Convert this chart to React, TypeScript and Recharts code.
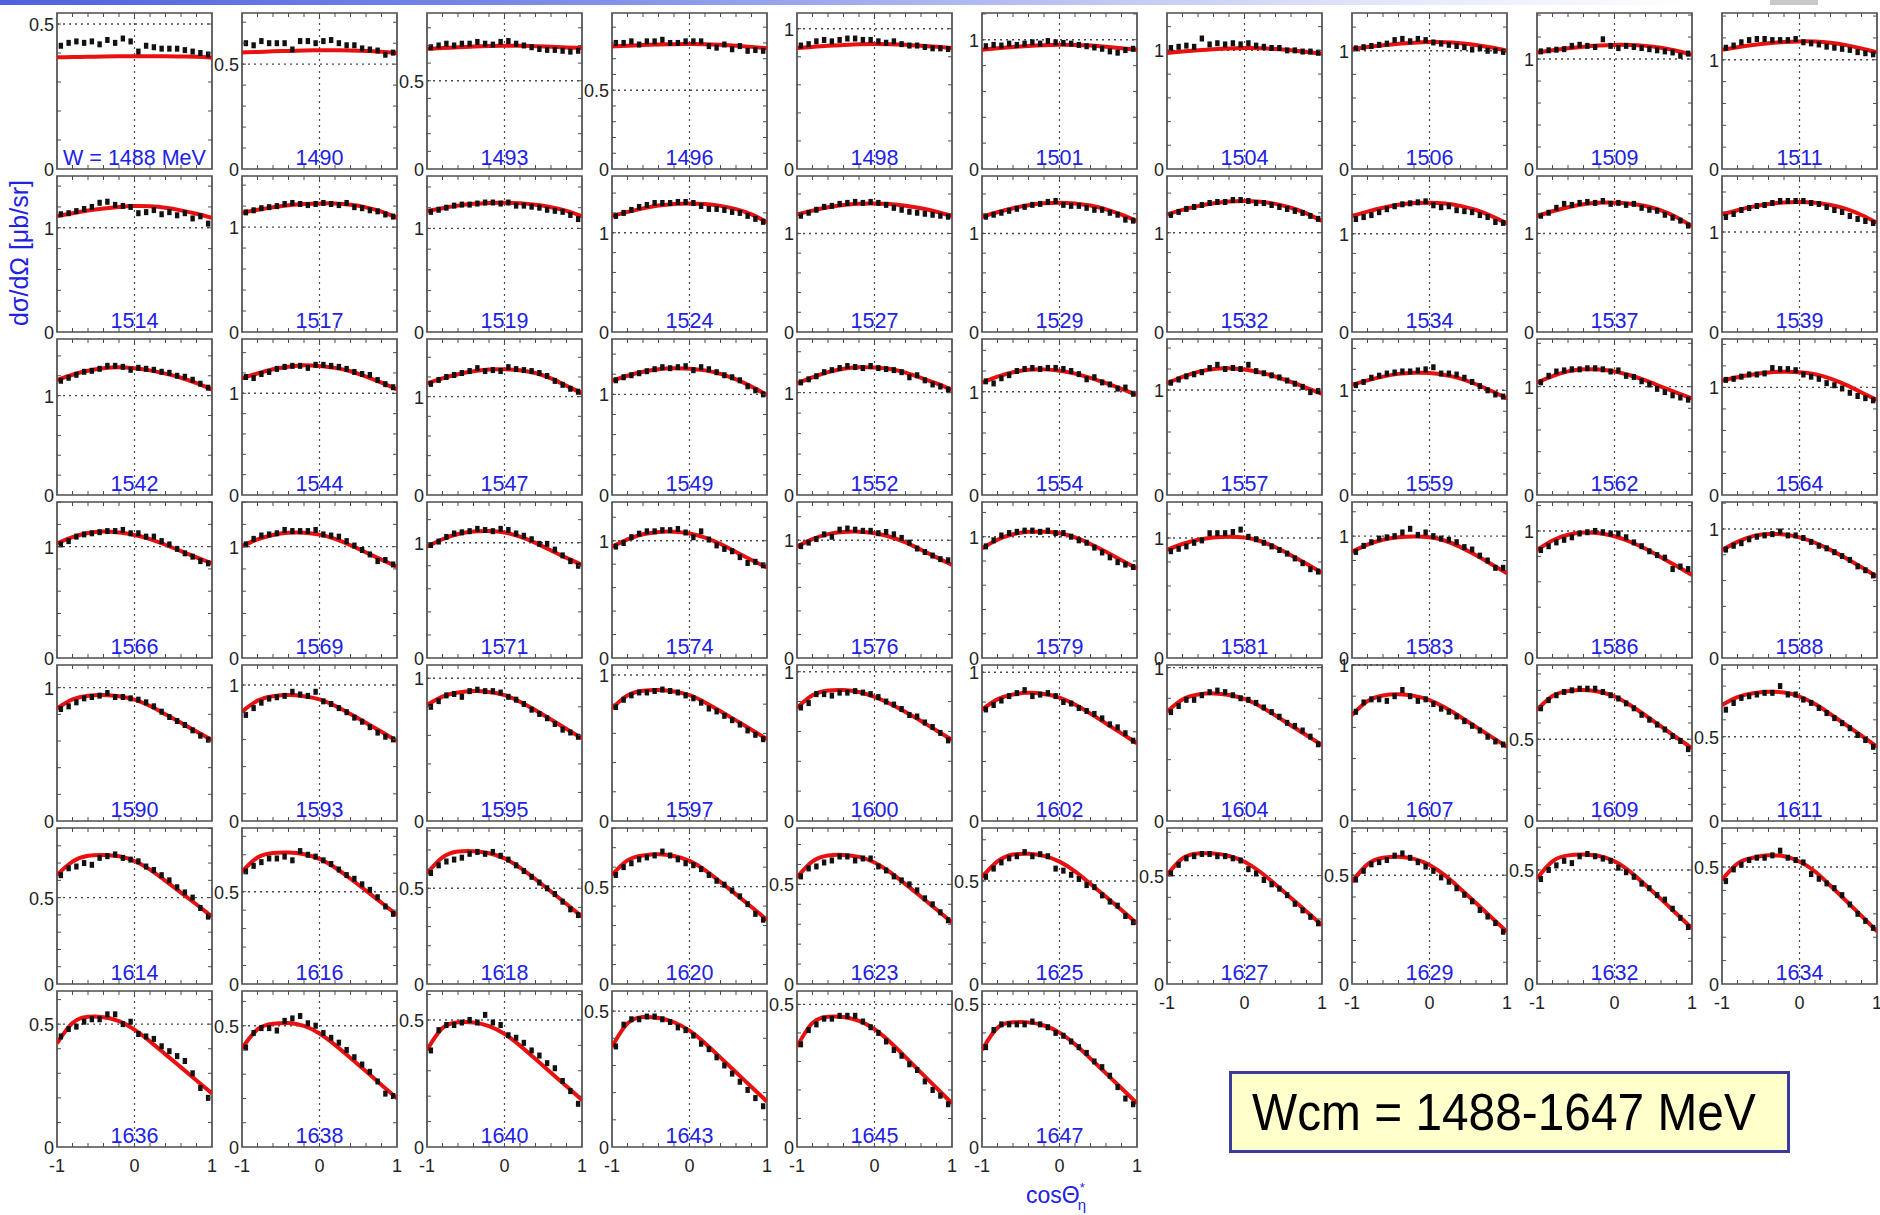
import React from 'react';
import { ComposedChart, Line, Scatter, XAxis, YAxis, ReferenceArea, ReferenceLine } from 'recharts';

// eta photoproduction cross sections, one small panel per W bin (MeV)
const ENERGIES = [
  1488, 1490, 1493, 1496, 1498, 1501, 1504, 1506, 1509, 1511,
  1514, 1517, 1519, 1524, 1527, 1529, 1532, 1534, 1537, 1539,
  1542, 1544, 1547, 1549, 1552, 1554, 1557, 1559, 1562, 1564,
  1566, 1569, 1571, 1574, 1576, 1579, 1581, 1583, 1586, 1588,
  1590, 1593, 1595, 1597, 1600, 1602, 1604, 1607, 1609, 1611,
  1614, 1616, 1618, 1620, 1623, 1625, 1627, 1629, 1632, 1634,
  1636, 1638, 1640, 1643, 1645, 1647,
];

// upper limit of each panel's y axis (µb/sr)
const Y_TOP = [
  0.538, 0.744, 0.884, 0.99, 1.112, 1.207, 1.315, 1.319, 1.419, 1.428,
  1.497, 1.487, 1.506, 1.572, 1.583, 1.583, 1.572, 1.588, 1.583, 1.56,
  1.57, 1.534, 1.586, 1.55, 1.524, 1.51, 1.486, 1.49, 1.44, 1.45,
  1.401, 1.401, 1.353, 1.33, 1.325, 1.286, 1.3, 1.28, 1.228, 1.209,
  1.17, 1.147, 1.093, 1.068, 1.045, 1.049, 1.017, 1.0, 0.955, 0.925,
  0.903, 0.845, 0.815, 0.801, 0.783, 0.757, 0.72, 0.717, 0.684, 0.667,
  0.635, 0.643, 0.614, 0.574, 0.547, 0.547,
];

const X_TICKS = [-1, -0.8, -0.6, -0.4, -0.2, 0, 0.2, 0.4, 0.6, 0.8, 1];
const CURVE_X = [-1, -0.8, -0.6, -0.4, -0.2, 0, 0.2, 0.4, 0.6, 0.8, 1];
const POINT_X = [
  -0.95, -0.85, -0.75, -0.65, -0.55, -0.45, -0.35, -0.25, -0.15, -0.05,
  0.05, 0.15, 0.25, 0.35, 0.45, 0.55, 0.65, 0.75, 0.85, 0.95,
];

// model curves (red), sampled at CURVE_X
const CURVE_R1 = [
  [0.385, 0.386, 0.387, 0.388, 0.389, 0.389, 0.389, 0.389, 0.388, 0.387, 0.384],
  [0.556, 0.558, 0.561, 0.563, 0.565, 0.566, 0.566, 0.565, 0.563, 0.559, 0.553],
  [0.681, 0.685, 0.690, 0.694, 0.697, 0.698, 0.698, 0.696, 0.693, 0.689, 0.685],
  [0.778, 0.782, 0.787, 0.790, 0.792, 0.793, 0.792, 0.788, 0.782, 0.775, 0.767],
  [0.862, 0.870, 0.878, 0.884, 0.889, 0.891, 0.890, 0.886, 0.879, 0.871, 0.862],
  [0.923, 0.934, 0.944, 0.952, 0.958, 0.961, 0.960, 0.955, 0.946, 0.935, 0.923],
  [0.977, 0.990, 1.001, 1.010, 1.016, 1.019, 1.018, 1.012, 1.001, 0.987, 0.971],
  [1.014, 1.031, 1.046, 1.059, 1.068, 1.073, 1.072, 1.064, 1.049, 1.027, 1.000],
  [1.060, 1.080, 1.098, 1.113, 1.123, 1.129, 1.128, 1.120, 1.103, 1.076, 1.039],
  [1.092, 1.115, 1.135, 1.151, 1.162, 1.168, 1.166, 1.155, 1.134, 1.103, 1.067],
];
const CURVE_R2 = [
  [1.112, 1.140, 1.165, 1.185, 1.200, 1.208, 1.206, 1.192, 1.167, 1.135, 1.096],
  [1.137, 1.165, 1.190, 1.208, 1.220, 1.226, 1.224, 1.212, 1.188, 1.148, 1.089],
  [1.167, 1.195, 1.220, 1.237, 1.246, 1.248, 1.242, 1.228, 1.205, 1.170, 1.119],
  [1.168, 1.210, 1.246, 1.274, 1.291, 1.296, 1.290, 1.271, 1.238, 1.185, 1.107],
  [1.193, 1.232, 1.265, 1.289, 1.302, 1.305, 1.298, 1.281, 1.256, 1.220, 1.176],
  [1.169, 1.215, 1.256, 1.287, 1.306, 1.312, 1.305, 1.283, 1.245, 1.190, 1.125],
  [1.185, 1.230, 1.268, 1.297, 1.315, 1.320, 1.313, 1.291, 1.252, 1.196, 1.118],
  [1.180, 1.226, 1.265, 1.295, 1.312, 1.316, 1.308, 1.284, 1.242, 1.180, 1.105],
  [1.176, 1.225, 1.266, 1.296, 1.311, 1.312, 1.302, 1.278, 1.234, 1.165, 1.074],
  [1.176, 1.218, 1.254, 1.280, 1.296, 1.300, 1.292, 1.270, 1.231, 1.170, 1.092],
];
const CURVE_R3 = [
  [1.157, 1.210, 1.250, 1.276, 1.285, 1.275, 1.254, 1.222, 1.180, 1.125, 1.063],
  [1.147, 1.195, 1.236, 1.262, 1.277, 1.268, 1.250, 1.217, 1.165, 1.105, 1.039],
  [1.135, 1.185, 1.228, 1.258, 1.275, 1.278, 1.268, 1.240, 1.185, 1.110, 1.034],
  [1.136, 1.185, 1.224, 1.250, 1.259, 1.255, 1.238, 1.203, 1.148, 1.077, 0.994],
  [1.091, 1.150, 1.200, 1.233, 1.247, 1.245, 1.230, 1.195, 1.145, 1.090, 1.026],
  [1.087, 1.145, 1.188, 1.212, 1.216, 1.203, 1.175, 1.133, 1.082, 1.027, 0.968],
  [1.064, 1.125, 1.173, 1.201, 1.207, 1.195, 1.168, 1.128, 1.077, 1.021, 0.962],
  [1.051, 1.095, 1.131, 1.157, 1.168, 1.165, 1.147, 1.112, 1.058, 0.993, 0.923],
  [1.037, 1.098, 1.141, 1.160, 1.158, 1.140, 1.105, 1.057, 1.000, 0.945, 0.892],
  [1.063, 1.095, 1.120, 1.138, 1.146, 1.142, 1.122, 1.082, 1.023, 0.953, 0.883],
];
const CURVE_R4 = [
  [1.030, 1.085, 1.122, 1.135, 1.127, 1.105, 1.068, 1.017, 0.960, 0.903, 0.850],
  [1.006, 1.065, 1.105, 1.124, 1.125, 1.108, 1.070, 1.013, 0.948, 0.883, 0.820],
  [0.966, 1.030, 1.075, 1.097, 1.101, 1.088, 1.052, 0.998, 0.933, 0.868, 0.807],
  [0.949, 1.012, 1.055, 1.075, 1.077, 1.062, 1.027, 0.972, 0.904, 0.836, 0.773],
  [0.946, 1.010, 1.052, 1.070, 1.073, 1.060, 1.030, 0.982, 0.920, 0.855, 0.790],
  [0.904, 0.975, 1.020, 1.040, 1.040, 1.028, 0.995, 0.940, 0.875, 0.806, 0.739],
  [0.900, 0.950, 0.985, 1.005, 1.011, 1.004, 0.975, 0.923, 0.857, 0.785, 0.711],
  [0.872, 0.930, 0.970, 0.990, 0.996, 0.990, 0.962, 0.910, 0.843, 0.770, 0.695],
  [0.850, 0.925, 0.970, 0.987, 0.982, 0.958, 0.915, 0.860, 0.793, 0.724, 0.654],
  [0.837, 0.900, 0.945, 0.961, 0.958, 0.935, 0.893, 0.838, 0.773, 0.703, 0.632],
];
const CURVE_R5 = [
  [0.845, 0.912, 0.940, 0.945, 0.935, 0.910, 0.862, 0.800, 0.736, 0.671, 0.607],
  [0.804, 0.885, 0.918, 0.926, 0.918, 0.894, 0.847, 0.787, 0.722, 0.656, 0.588],
  [0.813, 0.872, 0.900, 0.910, 0.904, 0.882, 0.836, 0.776, 0.711, 0.645, 0.579],
  [0.771, 0.860, 0.892, 0.897, 0.887, 0.861, 0.812, 0.752, 0.689, 0.625, 0.561],
  [0.758, 0.842, 0.874, 0.877, 0.864, 0.832, 0.786, 0.730, 0.670, 0.606, 0.543],
  [0.749, 0.818, 0.851, 0.862, 0.854, 0.830, 0.783, 0.722, 0.656, 0.589, 0.522],
  [0.713, 0.792, 0.825, 0.832, 0.822, 0.796, 0.748, 0.687, 0.623, 0.559, 0.495],
  [0.679, 0.768, 0.805, 0.812, 0.802, 0.775, 0.727, 0.667, 0.603, 0.539, 0.476],
  [0.680, 0.765, 0.795, 0.802, 0.791, 0.762, 0.710, 0.646, 0.579, 0.512, 0.445],
  [0.688, 0.735, 0.758, 0.766, 0.762, 0.738, 0.694, 0.634, 0.570, 0.506, 0.441],
];
const CURVE_R6 = [
  [0.631, 0.708, 0.742, 0.747, 0.739, 0.712, 0.662, 0.597, 0.529, 0.460, 0.390],
  [0.608, 0.685, 0.710, 0.712, 0.703, 0.678, 0.631, 0.570, 0.506, 0.440, 0.374],
  [0.578, 0.662, 0.692, 0.694, 0.683, 0.656, 0.608, 0.547, 0.483, 0.418, 0.352],
  [0.560, 0.635, 0.660, 0.666, 0.657, 0.632, 0.585, 0.524, 0.460, 0.395, 0.329],
  [0.535, 0.615, 0.645, 0.648, 0.638, 0.610, 0.562, 0.501, 0.438, 0.374, 0.309],
  [0.519, 0.595, 0.628, 0.632, 0.622, 0.594, 0.547, 0.486, 0.423, 0.359, 0.294],
  [0.503, 0.580, 0.602, 0.602, 0.591, 0.564, 0.518, 0.459, 0.397, 0.335, 0.272],
  [0.470, 0.550, 0.580, 0.585, 0.575, 0.547, 0.499, 0.437, 0.372, 0.306, 0.240],
  [0.463, 0.538, 0.564, 0.568, 0.561, 0.538, 0.493, 0.434, 0.372, 0.308, 0.244],
  [0.445, 0.515, 0.540, 0.550, 0.546, 0.524, 0.481, 0.420, 0.356, 0.291, 0.225],
];
const CURVE_R7 = [
  [0.422, 0.505, 0.530, 0.528, 0.512, 0.478, 0.430, 0.377, 0.324, 0.271, 0.218],
  [0.407, 0.485, 0.508, 0.511, 0.499, 0.468, 0.421, 0.367, 0.312, 0.256, 0.200],
  [0.382, 0.468, 0.491, 0.490, 0.476, 0.445, 0.399, 0.346, 0.292, 0.239, 0.185],
  [0.369, 0.455, 0.478, 0.475, 0.459, 0.428, 0.382, 0.329, 0.275, 0.221, 0.167],
  [0.352, 0.435, 0.457, 0.456, 0.442, 0.413, 0.368, 0.315, 0.261, 0.207, 0.153],
  [0.340, 0.418, 0.437, 0.437, 0.426, 0.401, 0.360, 0.310, 0.258, 0.206, 0.153],
];

// measured points (black), at POINT_X
const POINTS_R1 = [
  [0.425, 0.435, 0.44, 0.435, 0.44, 0.43, 0.445, 0.435, 0.45, 0.44, 0.405, 0.425, 0.42, 0.415, 0.415, 0.415, 0.41, 0.405, 0.40, 0.395],
  [0.60, 0.59, 0.61, 0.60, 0.60, 0.60, 0.57, 0.61, 0.61, 0.60, 0.61, 0.615, 0.60, 0.59, 0.59, 0.575, 0.57, 0.565, 0.545, 0.555],
  [0.69, 0.70, 0.71, 0.70, 0.71, 0.71, 0.72, 0.71, 0.705, 0.72, 0.725, 0.71, 0.70, 0.69, 0.68, 0.675, 0.675, 0.67, 0.665, 0.67],
  [0.80, 0.80, 0.81, 0.79, 0.81, 0.81, 0.82, 0.80, 0.80, 0.81, 0.81, 0.81, 0.78, 0.77, 0.79, 0.76, 0.78, 0.75, 0.755, 0.75],
  [0.88, 0.89, 0.91, 0.92, 0.91, 0.92, 0.93, 0.93, 0.92, 0.92, 0.91, 0.90, 0.91, 0.89, 0.88, 0.88, 0.87, 0.86, 0.86, 0.855],
  [0.95, 0.96, 0.955, 0.97, 0.96, 0.97, 0.98, 0.97, 0.99, 0.98, 0.975, 0.97, 0.96, 0.95, 0.94, 0.93, 0.91, 0.90, 0.92, 0.93],
  [1.02, 1.03, 1.04, 1.03, 1.10, 1.05, 1.06, 1.05, 1.06, 1.05, 1.06, 1.04, 1.03, 1.02, 1.02, 1.00, 1.00, 0.99, 0.99, 0.98],
  [1.02, 1.03, 1.04, 1.05, 1.06, 1.09, 1.10, 1.08, 1.10, 1.09, 1.07, 1.06, 1.05, 1.04, 1.03, 1.01, 1.02, 1.00, 1.00, 0.99],
  [1.07, 1.08, 1.085, 1.09, 1.12, 1.13, 1.12, 1.11, 1.18, 1.12, 1.10, 1.12, 1.11, 1.10, 1.09, 1.08, 1.07, 1.06, 1.03, 1.05],
  [1.11, 1.13, 1.16, 1.18, 1.19, 1.19, 1.18, 1.18, 1.18, 1.19, 1.16, 1.15, 1.14, 1.12, 1.11, 1.10, 1.09, 1.07, 1.06, 1.05],
];
const POINTS_R2 = [
  [1.13, 1.14, 1.16, 1.18, 1.20, 1.24, 1.25, 1.22, 1.21, 1.20, 1.14, 1.15, 1.17, 1.13, 1.15, 1.12, 1.14, 1.09, 1.11, 1.04],
  [1.14, 1.16, 1.18, 1.19, 1.20, 1.22, 1.23, 1.22, 1.21, 1.22, 1.23, 1.22, 1.21, 1.23, 1.19, 1.18, 1.16, 1.15, 1.12, 1.10],
  [1.16, 1.18, 1.20, 1.22, 1.23, 1.23, 1.24, 1.25, 1.25, 1.24, 1.25, 1.22, 1.22, 1.21, 1.20, 1.18, 1.17, 1.16, 1.13, 1.09],
  [1.17, 1.20, 1.23, 1.26, 1.28, 1.30, 1.30, 1.30, 1.31, 1.31, 1.30, 1.27, 1.24, 1.24, 1.23, 1.21, 1.20, 1.17, 1.14, 1.11],
  [1.18, 1.21, 1.24, 1.27, 1.28, 1.30, 1.31, 1.32, 1.31, 1.32, 1.31, 1.29, 1.26, 1.24, 1.22, 1.21, 1.20, 1.19, 1.18, 1.17],
  [1.17, 1.19, 1.21, 1.23, 1.25, 1.27, 1.29, 1.30, 1.32, 1.33, 1.29, 1.28, 1.28, 1.26, 1.24, 1.24, 1.21, 1.19, 1.14, 1.13],
  [1.18, 1.21, 1.24, 1.26, 1.28, 1.30, 1.31, 1.31, 1.33, 1.33, 1.32, 1.30, 1.30, 1.28, 1.26, 1.24, 1.22, 1.20, 1.17, 1.14],
  [1.15, 1.17, 1.19, 1.22, 1.25, 1.28, 1.30, 1.31, 1.32, 1.33, 1.29, 1.27, 1.28, 1.24, 1.23, 1.22, 1.19, 1.17, 1.12, 1.11],
  [1.18, 1.21, 1.26, 1.30, 1.29, 1.31, 1.32, 1.31, 1.33, 1.30, 1.31, 1.29, 1.30, 1.26, 1.24, 1.23, 1.19, 1.16, 1.13, 1.08],
  [1.15, 1.18, 1.22, 1.24, 1.26, 1.27, 1.29, 1.31, 1.31, 1.31, 1.31, 1.29, 1.28, 1.25, 1.22, 1.20, 1.16, 1.13, 1.11, 1.09],
];
const POINTS_R3 = [
  [1.15, 1.18, 1.21, 1.24, 1.25, 1.27, 1.30, 1.30, 1.29, 1.26, 1.28, 1.27, 1.26, 1.24, 1.23, 1.20, 1.19, 1.16, 1.12, 1.08],
  [1.16, 1.15, 1.19, 1.21, 1.24, 1.26, 1.27, 1.27, 1.25, 1.28, 1.28, 1.27, 1.26, 1.24, 1.21, 1.19, 1.18, 1.13, 1.09, 1.06],
  [1.13, 1.17, 1.20, 1.22, 1.24, 1.26, 1.29, 1.26, 1.27, 1.26, 1.30, 1.28, 1.27, 1.26, 1.24, 1.21, 1.16, 1.12, 1.08, 1.05],
  [1.14, 1.17, 1.19, 1.21, 1.23, 1.25, 1.27, 1.26, 1.27, 1.28, 1.24, 1.27, 1.25, 1.22, 1.19, 1.17, 1.14, 1.08, 1.04, 1.00],
  [1.10, 1.13, 1.16, 1.20, 1.22, 1.24, 1.26, 1.25, 1.24, 1.26, 1.24, 1.23, 1.22, 1.20, 1.15, 1.17, 1.12, 1.08, 1.06, 1.03],
  [1.10, 1.08, 1.13, 1.16, 1.20, 1.22, 1.23, 1.22, 1.23, 1.23, 1.22, 1.20, 1.17, 1.12, 1.14, 1.09, 1.07, 1.03, 1.04, 0.98],
  [1.07, 1.10, 1.13, 1.15, 1.17, 1.21, 1.24, 1.20, 1.21, 1.20, 1.24, 1.18, 1.16, 1.14, 1.12, 1.09, 1.06, 1.03, 0.98, 0.99],
  [1.05, 1.08, 1.12, 1.14, 1.16, 1.17, 1.18, 1.18, 1.19, 1.20, 1.22, 1.16, 1.16, 1.15, 1.12, 1.08, 1.04, 1.00, 0.96, 0.94],
  [1.04, 1.10, 1.14, 1.15, 1.16, 1.16, 1.17, 1.17, 1.16, 1.14, 1.15, 1.10, 1.09, 1.05, 1.02, 0.98, 0.95, 0.92, 0.90, 0.88],
  [1.07, 1.08, 1.10, 1.12, 1.12, 1.13, 1.18, 1.17, 1.17, 1.16, 1.12, 1.10, 1.08, 1.04, 1.02, 0.99, 0.95, 0.92, 0.90, 0.88],
];
const POINTS_R4 = [
  [1.02, 1.05, 1.09, 1.11, 1.12, 1.13, 1.14, 1.14, 1.15, 1.12, 1.12, 1.09, 1.09, 1.05, 1.02, 0.98, 0.94, 0.91, 0.87, 0.85],
  [1.02, 1.07, 1.10, 1.11, 1.12, 1.15, 1.14, 1.14, 1.14, 1.15, 1.11, 1.10, 1.09, 1.05, 1.01, 0.97, 0.93, 0.87, 0.88, 0.84],
  [0.98, 1.01, 1.05, 1.08, 1.09, 1.10, 1.12, 1.11, 1.10, 1.12, 1.11, 1.08, 1.06, 1.03, 0.99, 0.99, 0.94, 0.89, 0.84, 0.80],
  [0.95, 0.98, 1.03, 1.06, 1.08, 1.08, 1.09, 1.09, 1.10, 1.07, 1.03, 1.08, 1.01, 0.96, 0.93, 0.91, 0.86, 0.81, 0.82, 0.79],
  [0.95, 0.98, 1.01, 1.05, 1.03, 1.09, 1.10, 1.09, 1.08, 1.08, 1.06, 1.07, 1.05, 1.02, 0.98, 0.93, 0.90, 0.87, 0.84, 0.83],
  [0.92, 0.97, 1.01, 1.03, 1.04, 1.05, 1.05, 1.04, 1.05, 1.03, 1.03, 1.00, 0.97, 0.95, 0.91, 0.87, 0.83, 0.79, 0.77, 0.75],
  [0.89, 0.91, 0.93, 0.96, 0.98, 1.04, 1.04, 1.04, 1.05, 1.07, 1.01, 0.99, 0.96, 0.93, 0.90, 0.87, 0.83, 0.79, 0.74, 0.72],
  [0.87, 0.92, 0.95, 0.98, 0.99, 1.00, 1.03, 1.06, 1.01, 1.03, 1.00, 0.98, 0.97, 0.95, 0.91, 0.89, 0.84, 0.80, 0.74, 0.74],
  [0.85, 0.88, 0.91, 0.93, 0.95, 0.98, 0.99, 1.00, 0.99, 0.98, 0.98, 0.95, 0.91, 0.88, 0.84, 0.81, 0.79, 0.70, 0.72, 0.70],
  [0.84, 0.87, 0.89, 0.92, 0.94, 0.95, 0.96, 0.98, 0.95, 0.95, 0.93, 0.90, 0.87, 0.85, 0.82, 0.79, 0.76, 0.71, 0.68, 0.64],
];
const POINTS_R5 = [
  [0.84, 0.86, 0.89, 0.92, 0.93, 0.94, 0.96, 0.93, 0.93, 0.92, 0.91, 0.89, 0.86, 0.82, 0.78, 0.75, 0.72, 0.68, 0.64, 0.61],
  [0.78, 0.83, 0.87, 0.90, 0.91, 0.92, 0.95, 0.93, 0.92, 0.95, 0.88, 0.86, 0.83, 0.80, 0.76, 0.73, 0.69, 0.65, 0.62, 0.60],
  [0.80, 0.84, 0.88, 0.89, 0.87, 0.91, 0.92, 0.91, 0.91, 0.90, 0.87, 0.85, 0.82, 0.78, 0.75, 0.72, 0.68, 0.64, 0.62, 0.59],
  [0.78, 0.83, 0.86, 0.88, 0.88, 0.89, 0.90, 0.89, 0.88, 0.86, 0.84, 0.81, 0.77, 0.75, 0.72, 0.69, 0.66, 0.62, 0.59, 0.56],
  [0.76, 0.79, 0.85, 0.85, 0.84, 0.86, 0.86, 0.87, 0.86, 0.85, 0.83, 0.80, 0.78, 0.75, 0.71, 0.70, 0.66, 0.63, 0.59, 0.54],
  [0.75, 0.78, 0.81, 0.84, 0.86, 0.88, 0.84, 0.85, 0.86, 0.84, 0.80, 0.79, 0.76, 0.74, 0.72, 0.69, 0.65, 0.63, 0.59, 0.54],
  [0.71, 0.75, 0.79, 0.79, 0.82, 0.84, 0.85, 0.84, 0.82, 0.80, 0.79, 0.77, 0.74, 0.71, 0.68, 0.64, 0.62, 0.59, 0.55, 0.50],
  [0.70, 0.76, 0.78, 0.78, 0.77, 0.80, 0.84, 0.80, 0.77, 0.78, 0.75, 0.72, 0.70, 0.67, 0.64, 0.61, 0.58, 0.54, 0.51, 0.49],
  [0.69, 0.74, 0.77, 0.79, 0.80, 0.81, 0.81, 0.81, 0.79, 0.77, 0.75, 0.72, 0.69, 0.65, 0.62, 0.59, 0.56, 0.52, 0.49, 0.44],
  [0.66, 0.70, 0.73, 0.74, 0.75, 0.76, 0.76, 0.80, 0.75, 0.75, 0.72, 0.70, 0.67, 0.64, 0.61, 0.58, 0.55, 0.51, 0.48, 0.44],
];
const POINTS_R6 = [
  [0.63, 0.67, 0.68, 0.70, 0.69, 0.73, 0.74, 0.75, 0.73, 0.72, 0.71, 0.68, 0.66, 0.63, 0.60, 0.56, 0.53, 0.50, 0.44, 0.39],
  [0.61, 0.64, 0.66, 0.68, 0.68, 0.69, 0.67, 0.72, 0.70, 0.69, 0.67, 0.65, 0.62, 0.59, 0.57, 0.54, 0.51, 0.47, 0.42, 0.38],
  [0.58, 0.62, 0.64, 0.65, 0.66, 0.68, 0.69, 0.68, 0.69, 0.67, 0.65, 0.62, 0.59, 0.56, 0.53, 0.50, 0.47, 0.43, 0.39, 0.36],
  [0.56, 0.60, 0.62, 0.64, 0.65, 0.66, 0.68, 0.66, 0.64, 0.62, 0.61, 0.59, 0.56, 0.53, 0.51, 0.48, 0.45, 0.41, 0.36, 0.33],
  [0.54, 0.58, 0.59, 0.61, 0.62, 0.64, 0.64, 0.62, 0.63, 0.63, 0.59, 0.57, 0.54, 0.52, 0.50, 0.47, 0.43, 0.40, 0.36, 0.32],
  [0.52, 0.56, 0.59, 0.61, 0.62, 0.64, 0.62, 0.63, 0.62, 0.56, 0.55, 0.53, 0.51, 0.48, 0.47, 0.43, 0.40, 0.38, 0.33, 0.30],
  [0.51, 0.55, 0.58, 0.59, 0.60, 0.60, 0.59, 0.59, 0.58, 0.57, 0.53, 0.51, 0.48, 0.46, 0.44, 0.41, 0.37, 0.34, 0.31, 0.28],
  [0.48, 0.52, 0.55, 0.56, 0.57, 0.59, 0.60, 0.58, 0.56, 0.54, 0.52, 0.49, 0.47, 0.44, 0.41, 0.38, 0.34, 0.31, 0.28, 0.24],
  [0.46, 0.50, 0.52, 0.54, 0.53, 0.56, 0.57, 0.56, 0.55, 0.54, 0.51, 0.49, 0.47, 0.44, 0.42, 0.39, 0.37, 0.33, 0.29, 0.25],
  [0.44, 0.49, 0.51, 0.53, 0.54, 0.54, 0.55, 0.57, 0.54, 0.53, 0.52, 0.47, 0.45, 0.43, 0.41, 0.38, 0.34, 0.30, 0.27, 0.24],
];
const POINTS_R7 = [
  [0.45, 0.48, 0.49, 0.51, 0.52, 0.52, 0.54, 0.54, 0.50, 0.51, 0.46, 0.45, 0.44, 0.41, 0.39, 0.37, 0.35, 0.30, 0.24, 0.20],
  [0.41, 0.47, 0.49, 0.49, 0.48, 0.52, 0.53, 0.54, 0.51, 0.50, 0.47, 0.45, 0.43, 0.40, 0.37, 0.34, 0.31, 0.27, 0.22, 0.21],
  [0.38, 0.46, 0.48, 0.48, 0.49, 0.50, 0.49, 0.52, 0.49, 0.48, 0.44, 0.43, 0.41, 0.38, 0.36, 0.33, 0.31, 0.26, 0.22, 0.17],
  [0.37, 0.45, 0.47, 0.47, 0.48, 0.48, 0.47, 0.46, 0.44, 0.43, 0.41, 0.38, 0.36, 0.33, 0.30, 0.27, 0.24, 0.21, 0.18, 0.15],
  [0.36, 0.41, 0.43, 0.45, 0.45, 0.46, 0.46, 0.46, 0.44, 0.42, 0.40, 0.37, 0.34, 0.32, 0.29, 0.27, 0.23, 0.20, 0.18, 0.15],
  [0.35, 0.41, 0.43, 0.43, 0.43, 0.43, 0.44, 0.43, 0.42, 0.40, 0.39, 0.37, 0.35, 0.33, 0.30, 0.28, 0.25, 0.21, 0.17, 0.15],
];

const CURVES = [...CURVE_R1, ...CURVE_R2, ...CURVE_R3, ...CURVE_R4, ...CURVE_R5, ...CURVE_R6, ...CURVE_R7];
const POINTS = [...POINTS_R1, ...POINTS_R2, ...POINTS_R3, ...POINTS_R4, ...POINTS_R5, ...POINTS_R6, ...POINTS_R7];

const FONT = '"Liberation Sans", Arial, Helvetica, sans-serif';
const BLUE = '#2121e4';
const RED = '#ea1010';
const FRAME = '#4d4d4d';
const GRID = '#4a4a4a';

// grid of panels
const COLS = 10;
const FRAME_W = 155;
const FRAME_H = 156;
const COL_PITCH = 185;
const ROW_PITCH = 163;
const LEFT0 = 57;
const TOP0 = 13;
const AXIS_W = 34;
const PAD_T = 10;
const PAD_R = 10;
const AXIS_H = 30;
const CHART_W = AXIS_W + FRAME_W + PAD_R;
const CHART_H = PAD_T + FRAME_H + AXIS_H;
const PL = AXIS_W;
const PR = AXIS_W + FRAME_W;
const PT = PAD_T;
const PB = PAD_T + FRAME_H;
const TICK = 4;
const TICK_FONT = 18;
// panels that carry -1 / 0 / 1 under them
const FIRST_LABELLED_X = 56;

function yTicks(top: number, mark: number) {
  const step = mark === 1 ? 0.2 : 0.1;
  const out: number[] = [];
  for (let k = 0; Math.round(k * step * 10) / 10 <= top + 1e-9; k++) out.push(Math.round(k * step * 10) / 10);
  return out;
}

const makeYTick = (mark: number) => (props: any) => {
  const { y, payload } = props;
  const v = payload.value;
  const labelled = v === 0 || v === mark;
  return (
    <g>
      {v !== 0 && <line x1={PL} x2={PL + TICK} y1={y} y2={y} stroke={FRAME} strokeWidth={1} />}
      {v !== 0 && <line x1={PR - TICK} x2={PR} y1={y} y2={y} stroke={FRAME} strokeWidth={1} />}
      {labelled && (
        <text x={PL - 3} y={y + 7} textAnchor="end" fontSize={TICK_FONT} fill="#222">
          {v === 0.5 ? '0.5' : String(v)}
        </text>
      )}
    </g>
  );
};

const makeXTick = (showLabels: boolean) => (props: any) => {
  const { x, payload } = props;
  const v = payload.value;
  const inner = v > -0.99 && v < 0.99;
  return (
    <g>
      {inner && <line x1={x} x2={x} y1={PB} y2={PB - TICK} stroke={FRAME} strokeWidth={1} />}
      {inner && <line x1={x} x2={x} y1={PT} y2={PT + TICK} stroke={FRAME} strokeWidth={1} />}
      {showLabels && (v === -1 || v === 0 || v === 1) && (
        <text x={x} y={PB + 25} textAnchor="middle" fontSize={TICK_FONT} fill="#222">
          {String(v)}
        </text>
      )}
    </g>
  );
};

const DataSquare = (p: any) => <rect x={p.cx - 2.2} y={p.cy - 3} width={4.4} height={6} fill="#111" />;

function Panel({ i }: { i: number }) {
  const top = Y_TOP[i];
  const mark = top >= 1 ? 1 : 0.5;
  const col = i % COLS;
  const row = Math.floor(i / COLS);
  const curve = CURVE_X.map((x, k) => ({ x, y: CURVES[i][k] }));
  const pts = POINT_X.map((x, k) => ({ x, y: POINTS[i][k] }));
  const title = i === 0 ? `W = ${ENERGIES[0]} MeV` : String(ENERGIES[i]);

  return (
    <div style={{ position: 'absolute', left: LEFT0 + col * COL_PITCH - AXIS_W, top: TOP0 + row * ROW_PITCH - PAD_T }}>
      <ComposedChart width={CHART_W} height={CHART_H} margin={{ top: PAD_T, right: PAD_R, left: 0, bottom: 0 }}>
        <XAxis
          type="number"
          dataKey="x"
          domain={[-1, 1]}
          ticks={X_TICKS}
          interval={0}
          allowDataOverflow
          height={AXIS_H}
          axisLine={false}
          tickLine={false}
          tick={makeXTick(i >= FIRST_LABELLED_X)}
        />
        <YAxis
          type="number"
          domain={[0, top]}
          ticks={yTicks(top, mark)}
          interval={0}
          allowDataOverflow
          width={AXIS_W}
          axisLine={false}
          tickLine={false}
          tick={makeYTick(mark)}
        />
        <ReferenceLine x={0} stroke={GRID} strokeWidth={1.2} strokeDasharray="2 4" />
        <ReferenceLine y={mark} stroke={GRID} strokeWidth={1.4} strokeDasharray="2 4" />
        <Line data={curve} dataKey="y" type="natural" stroke={RED} strokeWidth={4} dot={false} isAnimationActive={false} />
        <Scatter data={pts} dataKey="y" shape={DataSquare} isAnimationActive={false} />
        <ReferenceArea
          x1={-1}
          x2={1}
          y1={0}
          y2={top}
          fill="none"
          stroke={FRAME}
          strokeWidth={1.7}
          label={{ value: title, position: 'insideBottom', offset: 4, fill: BLUE, fontSize: 21.5 }}
        />
      </ComposedChart>
    </div>
  );
}

export default function App() {
  return (
    <div style={{ position: 'absolute', left: 0, top: 0, width: 1880, height: 1215, background: '#fff', fontFamily: FONT, overflow: 'hidden' }}>
      <div
        style={{
          position: 'absolute', left: 0, top: 0, width: 1880, height: 5,
          background: 'linear-gradient(to right, #4e62dc 0%, #7d8de8 30%, #b8c0f2 55%, #e6e9fa 75%, #ffffff 90%)',
        }}
      />
      <div style={{ position: 'absolute', left: 1770, top: 0, width: 48, height: 5, background: '#c9c9c9' }} />

      {ENERGIES.map((_, i) => (
        <Panel key={i} i={i} />
      ))}

      <svg width={1880} height={1215} style={{ position: 'absolute', left: 0, top: 0, pointerEvents: 'none' }}>
        <text transform="translate(28,253) rotate(-90)" textAnchor="middle" fontSize={25} fill={BLUE}>
          dσ/dΩ [μb/sr]
        </text>
        <text x={1026} y={1203} fontSize={23} fill={BLUE}>
          cosΘ
          <tspan dy={-11} fontSize={13}>*</tspan>
          <tspan dx={-7} dy={18} fontSize={15}>η</tspan>
        </text>
        <rect x={1230.5} y={1072.5} width={558} height={79} fill="#ffffcc" stroke="#3b3b9e" strokeWidth={3} />
        <text transform="translate(1252,1130) scale(0.92,1)" fontSize={52} fill="#000">
          Wcm = 1488-1647 MeV
        </text>
      </svg>
    </div>
  );
}
